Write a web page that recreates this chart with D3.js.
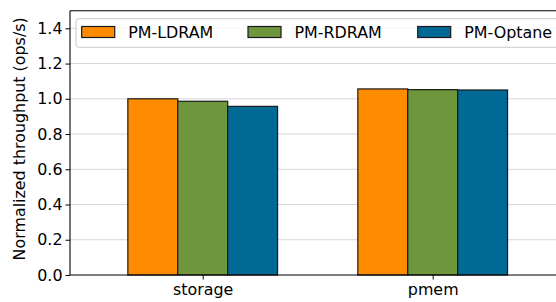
<!DOCTYPE html>
<html>
<head>
<meta charset="utf-8">
<script src="https://cdn.jsdelivr.net/npm/d3@7"></script>
<style>
  body { margin: 0; background: #fff; }
  svg { display: block; font-family: "DejaVu Sans", sans-serif; }
</style>
</head>
<body>
<div id="chart"></div>
<script>
const categories = ["storage", "pmem"];
const seriesNames = ["PM-LDRAM", "PM-RDRAM", "PM-Optane"];
const seriesColors = ["#ff8c00", "#6e963c", "#006994"];
const ldram = [1.0, 1.056];
const rdram = [0.986, 1.052];
const optane = [0.957, 1.050];
const yTicks = [0.0, 0.2, 0.4, 0.6, 0.8, 1.0, 1.2, 1.4];

const width = 556, height = 302;
const margin = { top: 10.7, left: 70, bottom: 275 };
const fontSize = 15.9;

const series = [ldram, rdram, optane];

const svg = d3.select("#chart").append("svg")
  .attr("width", width)
  .attr("height", height);

// category index -> px (axes run past the right edge of the picture)
const x = d3.scaleLinear().domain([-0.577, 1.577]).range([70, 565.4]);
const y = d3.scaleLinear().domain([0, 1.5]).range([margin.bottom, margin.top]);
const barW = x(0.217) - x(0);

// grid
svg.append("g")
  .selectAll("line").data(yTicks.slice(1))
  .join("line")
  .attr("x1", margin.left).attr("x2", width)
  .attr("y1", d => y(d)).attr("y2", d => y(d))
  .attr("stroke", "#d6d6d6").attr("stroke-width", 1);

// bars
series.forEach((vals, s) => {
  svg.append("g")
    .selectAll("rect").data(vals)
    .join("rect")
    .attr("x", (d, i) => x(i) + (s - 1.5) * barW)
    .attr("y", d => y(d))
    .attr("width", barW)
    .attr("height", d => y(0) - y(d))
    .attr("fill", seriesColors[s])
    .attr("stroke", "#1a1a1a")
    .attr("stroke-width", 1.2);
});

// axes
const yAxis = svg.append("g")
  .attr("transform", `translate(${margin.left},0)`)
  .call(d3.axisLeft(y).tickValues(yTicks).tickFormat(d3.format(".1f")).tickSize(4.5).tickPadding(3));

const xAxis = svg.append("g")
  .attr("transform", `translate(0,${margin.bottom})`)
  .call(d3.axisBottom(x).tickValues([0, 1]).tickFormat(i => categories[i]).tickSize(4.5).tickPadding(4));

[yAxis, xAxis].forEach(g => {
  g.select(".domain").remove();
  g.selectAll("text").attr("font-size", fontSize).attr("fill", "#000").attr("font-family", "DejaVu Sans");
  g.selectAll(".tick line").attr("stroke", "#000").attr("stroke-width", 1);
});
xAxis.selectAll("text").attr("dy", "0.72em");

// spines
svg.append("line").attr("x1", margin.left).attr("x2", margin.left)
  .attr("y1", margin.top).attr("y2", margin.bottom).attr("stroke", "#000").attr("stroke-width", 1.1);
svg.append("line").attr("x1", margin.left).attr("x2", width)
  .attr("y1", margin.bottom).attr("y2", margin.bottom).attr("stroke", "#000").attr("stroke-width", 1.1);
svg.append("line").attr("x1", margin.left).attr("x2", width)
  .attr("y1", margin.top).attr("y2", margin.top).attr("stroke", "#000").attr("stroke-width", 1.1);

// y label
svg.append("text")
  .attr("transform", `translate(25,${(margin.top + margin.bottom) / 2 - 4}) rotate(-90)`)
  .attr("text-anchor", "middle")
  .attr("font-size", fontSize)
  .text("Normalized throughput (ops/s)");

// legend
const legend = svg.append("g");
legend.append("rect")
  .attr("x", 76).attr("y", 18.7)
  .attr("width", 500).attr("height", 28.6)
  .attr("rx", 3)
  .attr("fill", "#fff").attr("fill-opacity", 0.8)
  .attr("stroke", "#c8c8c8").attr("stroke-width", 1);

const legendX = [81.7, 248, 417.7];
const items = legend.selectAll("g.item").data(seriesNames)
  .join("g").classed("item", true)
  .attr("transform", (d, i) => `translate(${legendX[i]},0)`);
items.append("rect")
  .attr("x", 0).attr("y", 26.5)
  .attr("width", 33).attr("height", 11)
  .attr("fill", (d, i) => seriesColors[i])
  .attr("stroke", "#1a1a1a").attr("stroke-width", 1.2);
items.append("text")
  .attr("x", 46.5).attr("y", 37.9)
  .attr("font-size", fontSize)
  .text(d => d);
</script>
</body>
</html>
